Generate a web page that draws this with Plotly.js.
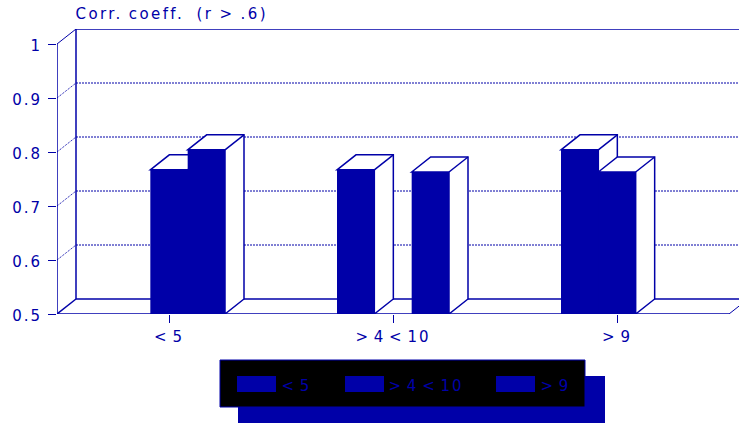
<!DOCTYPE html>
<html>
<head>
<meta charset="utf-8">
<script src="https://cdn.plot.ly/plotly-3.0.1.min.js"></script>
<style>
  html, body { margin: 0; padding: 0; background: #fff; overflow: hidden; }
  #chart { width: 739px; height: 423px; }
  #chart svg text { letter-spacing: 2px; word-spacing: -3px; }
  #chart svg .annotation[data-index="3"] text { letter-spacing: 2.4px; word-spacing: -1px; }
</style>
</head>
<body>
<div id="chart"></div>
<script>
// Correlation coefficient by group, drawn as pseudo-3D bars
const categories = ['< 5', '> 4 < 10', '> 9'];
const seriesNames = ['< 5', '> 4 < 10', '> 9'];
const seriesLow = [null, 0.767, 0.804];
const seriesMid = [0.767, null, 0.763];
const seriesHigh = [0.804, 0.763, null];
const yTicks = [0.5, 0.6, 0.7, 0.8, 0.9, 1];
const chartTitle = 'Corr. coeff.\u00A0\u00A0(r > .6)';

const BLUE = '#0000A8';
const W = 739, H = 423;
const M = { l: 57, r: 0, t: 29, b: 109 };
const plotW = W - M.l - M.r, plotH = H - M.t - M.b;
const pxPerCat = 224, pxPerUnit = 540;

// Oblique depth of the chart box, in data units
const depthX = 19 / pxPerCat, depthY = 15 / pxPerUnit;
const xMin = -0.5, xMax = xMin + plotW / pxPerCat;
const yMin = 0.5, yMax = yMin + plotH / pxPerUnit;
const xEnd = 2.5;
const barW = 1 / 6;

const shapes = [];
const seg = (x0, y0, x1, y1, width, dash) => shapes.push({
  type: 'line', xref: 'x', yref: 'y', layer: 'below', x0, y0, x1, y1,
  line: { color: BLUE, width: width, dash: dash || 'solid' }
});

// Back wall and floor
seg(xMin, yMin, xMin, 1, 1.5);
seg(xMin + depthX, yMin + depthY, xMin + depthX, 1 + depthY, 1.5);
seg(xMin + depthX, 1 + depthY, xMax, 1 + depthY, 1.5);
seg(xMin + depthX, yMin + depthY, xMax, yMin + depthY, 1.5);
seg(xMin, yMin, xEnd, yMin, 1.5);
seg(xMin, yMin, xMin + depthX, yMin + depthY, 1.5);
seg(xEnd, yMin, xEnd + depthX, yMin + depthY, 1);
seg(xMin, 1, xMin + depthX, 1 + depthY, 1);
yTicks.filter(v => v > 0.5 && v < 1).forEach(v => {
  seg(xMin, v, xMin + depthX, v + depthY, 1, '1px,1px');
  seg(xMin + depthX, v + depthY, xMax, v + depthY, 1, '2px,1px');
});

// Top and side faces of each bar, painted series by series
[seriesLow, seriesMid, seriesHigh].forEach((vals, k) => {
  vals.forEach((v, i) => {
    if (v === null) return;
    const left = i + (k - 1.5) * barW, right = left + barW;
    const corners = [
      [left, v], [left + depthX, v + depthY], [right + depthX, v + depthY],
      [right + depthX, yMin + depthY], [right, yMin], [right, v]
    ];
    shapes.push({
      type: 'path', xref: 'x', yref: 'y', layer: 'below',
      path: 'M' + corners.map(c => c.join(',')).join('L') + 'Z',
      fillcolor: '#fff', line: { color: BLUE, width: 1.5 }
    });
    seg(right, v, right + depthX, v + depthY, 1.5);
  });
});

// Legend panel, placed in page pixels
const px = x => (x - M.l) / plotW;
const py = y => 1 - (y - M.t) / plotH;
const box = (x0, y0, x1, y1, fill, lineColor) => shapes.push({
  type: 'rect', xref: 'paper', yref: 'paper', layer: 'above',
  x0: px(x0), y0: py(y0), x1: px(x1), y1: py(y1), fillcolor: fill,
  line: { color: lineColor || fill, width: lineColor ? 1 : 0 }
});
box(238, 376, 605, 423, BLUE);
box(220, 360, 585, 407, '#000000', BLUE);
const swatchX = [237, 345, 496];
const labelCenterX = [296, 425.5, 555];
swatchX.forEach(x => box(x, 376, x + 39, 392, BLUE));

const annotations = seriesNames.map((name, i) => ({
  xref: 'paper', yref: 'paper', x: px(labelCenterX[i]), y: py(386), xanchor: 'center', yanchor: 'middle',
  text: name, showarrow: false, font: { family: 'DejaVu Sans', size: 15, color: BLUE }
}));
annotations.push({
  xref: 'paper', yref: 'paper', x: px(171.5), y: py(14), xanchor: 'center', yanchor: 'middle',
  text: chartTitle, showarrow: false, font: { family: 'DejaVu Sans', size: 15, color: BLUE }
});

const traces = [seriesLow, seriesMid, seriesHigh].map((vals, k) => ({
  type: 'bar', name: seriesNames[k], x: [0, 1, 2], y: vals,
  marker: { color: BLUE, line: { width: 0 } }, hoverinfo: 'y'
}));

const layout = {
  width: W, height: H, margin: M, paper_bgcolor: '#fff', plot_bgcolor: 'rgba(0,0,0,0)',
  showlegend: false, barmode: 'group', bargap: 0.5, bargroupgap: 0,
  font: { family: 'DejaVu Sans', size: 15, color: BLUE },
  xaxis: {
    range: [xMin, xMax], tickvals: [0, 1, 2], ticktext: categories, ticks: 'outside',
    ticklen: 8, tickcolor: BLUE, tickwidth: 1, showgrid: false, zeroline: false,
    showline: false, ticklabelstandoff: 1
  },
  yaxis: {
    range: [yMin, yMax], tickvals: yTicks, ticktext: yTicks.map(String), ticks: 'outside',
    ticklen: 8, tickcolor: BLUE, tickwidth: 1, showgrid: false, zeroline: false,
    showline: false, ticklabelstandoff: 3
  },
  shapes, annotations
};

Plotly.newPlot('chart', traces, layout, { displayModeBar: false, staticPlot: true }).then(() => {
  // Nudge the value labels down so they sit level with their ticks
  document.querySelectorAll('#chart .ytick text').forEach(t => t.setAttribute('dy', '2'));
});
</script>
</body>
</html>
